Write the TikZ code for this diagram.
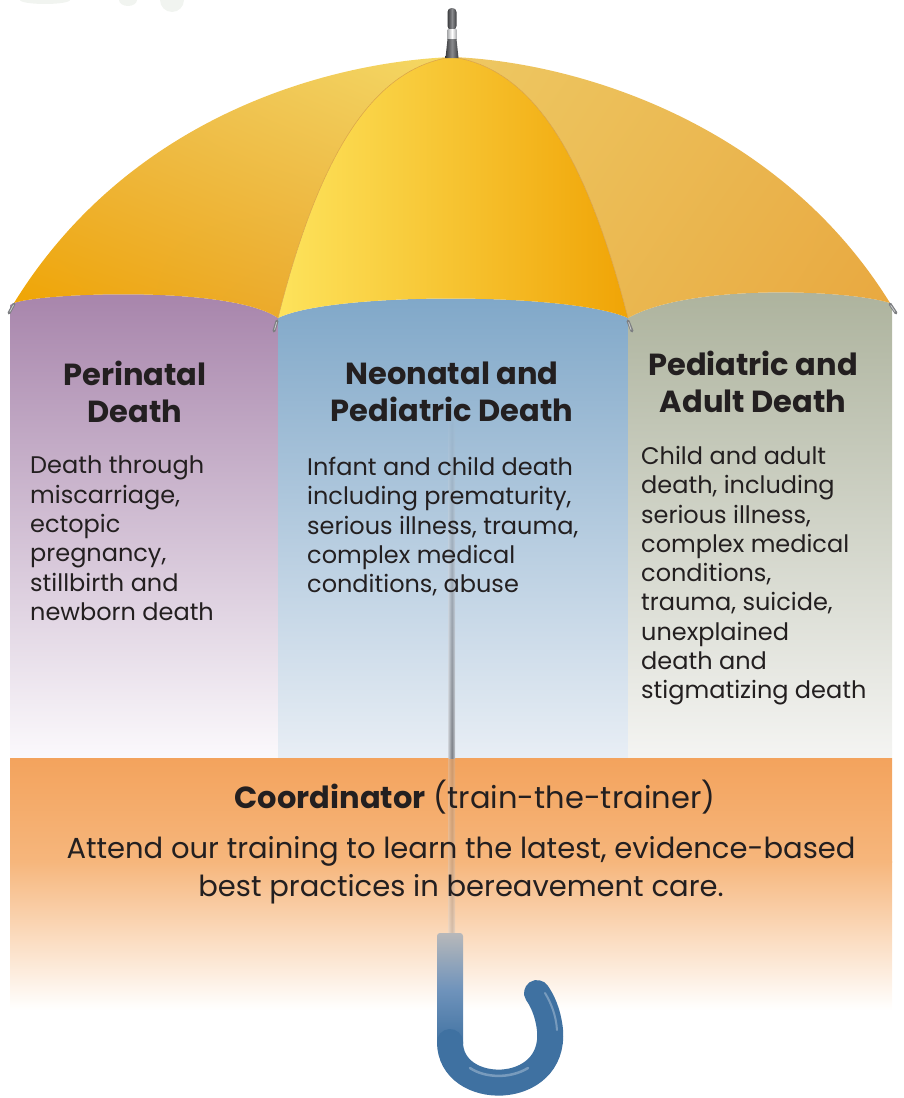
\documentclass[tikz,border=0pt]{standalone}
\usepackage{fontspec}
\setmainfont{Poppins}
\usetikzlibrary{fadings,shadings}
\definecolor{ink}{HTML}{231F20}
\definecolor{purpleTop}{HTML}{A683AA}
\definecolor{purpleBot}{HTML}{FBF9FC}
\definecolor{blueTop}{HTML}{7FA7C8}
\definecolor{blueBot}{HTML}{E8EEF5}
\definecolor{greenTop}{HTML}{ACB29C}
\definecolor{greenBot}{HTML}{F4F4F2}
\definecolor{bandTop}{HTML}{F3A35D}
\definecolor{bandMid}{HTML}{F6B67C}
\definecolor{canA}{HTML}{F0A400}
\definecolor{canB}{HTML}{E8AE48}
\definecolor{canC}{HTML}{EBBA52}
\definecolor{canD}{HTML}{F5D862}
\definecolor{midL}{HTML}{FDE35C}
\definecolor{midM}{HTML}{EBBC55}
\definecolor{midR}{HTML}{F0A406}
\definecolor{rgtA}{HTML}{EEC862}
\definecolor{rgtB}{HTML}{EBC05A}
\definecolor{rgtC}{HTML}{E9B24C}
\definecolor{rgtD}{HTML}{E9A83F}
\definecolor{ribline}{HTML}{D9A043}
\definecolor{metal}{HTML}{7D7F82}
\definecolor{ferDark}{HTML}{3A3B3E}
\definecolor{ferMid}{HTML}{8A8B8E}
\definecolor{shaftDark}{HTML}{7A7E85}
\definecolor{shaftLight}{HTML}{C4C8CE}
\definecolor{handleTop}{HTML}{B7B8BA}
\definecolor{handleMid}{HTML}{6F93BB}
\definecolor{handleBlue}{HTML}{3F71A1}
\definecolor{leaf}{HTML}{F1F4F0}
\tikzset{
  head/.style={font=\fontsize{30.5}{37}\selectfont\bfseries, text=ink, align=center, inner sep=0pt, anchor=north},
  bodytext/.style={font=\fontsize{24}{29.3}\selectfont, text=ink, align=left, inner sep=0pt, anchor=north west},
  tipline/.style={line width=3pt, line cap=round, color=metal}
}
\begin{document}
\begin{tikzpicture}[x=1pt,y=-1pt]
\useasboundingbox (0,0) rectangle (903,1098);
% faint leaf remnants
\fill[leaf] (45,0) ellipse [x radius=25, y radius=4];
\fill[leaf] (128,0) ellipse [x radius=9, y radius=6];
\fill[leaf] (172,0) ellipse [x radius=12, y radius=12];
% lower panels
\shade[top color=purpleTop, bottom color=purpleBot]
  (10,305) -- (14,303) .. controls (40,293) and (230,285) .. (278,318) -- (278,758) -- (10,758) -- cycle;
\shade[top color=blueTop, bottom color=blueBot]
  (278,318) .. controls (330,292) and (570,292) .. (628,318) -- (628,758) -- (278,758) -- cycle;
\shade[top color=greenTop, bottom color=greenBot]
  (628,318) .. controls (690,283) and (850,290) .. (890,303) -- (892,305) -- (892,758) -- (628,758) -- cycle;
% coordinator band
\shade[top color=bandTop, bottom color=bandMid] (10,758) rectangle (892,862);
\shade[top color=bandMid, bottom color=white] (10,861.5) rectangle (892,1010);
% shaft
\shade[left color=shaftLight, right color=shaftLight, middle color=shaftDark, path fading=north]
  (448.5,400) rectangle (455,758);
\shade[left color=shaftLight, right color=shaftLight, middle color=shaftDark, opacity=0.3]
  (448.5,758) rectangle (455,935);
% canopy
\shade[upper left=canC, upper right=canD, lower left=canA, lower right=canB]
  (452,57) .. controls (330,62) and (130,115) .. (14,303)
  .. controls (40,293) and (230,285) .. (278,318)
  .. controls (320,150) and (375,68) .. (452,57) -- cycle;
\shade[left color=midL, middle color=midM, right color=midR]
  (452,57) .. controls (375,68) and (320,150) .. (278,318)
  .. controls (330,292) and (570,292) .. (628,318)
  .. controls (585,150) and (530,68) .. (452,57) -- cycle;
\shade[upper left=rgtA, upper right=rgtC, lower left=rgtB, lower right=rgtD]
  (452,57) .. controls (530,68) and (585,150) .. (628,318)
  .. controls (690,283) and (850,290) .. (890,303)
  .. controls (780,125) and (580,62) .. (452,57) -- cycle;
\draw[ribline, line width=0.5pt] (452,57) .. controls (375,68) and (320,150) .. (278,318);
\draw[ribline, line width=0.5pt] (452,57) .. controls (530,68) and (585,150) .. (628,318);
% rib tips
\draw[tipline] (14,304) -- (9,313);
\draw[tipline] (277,321) -- (274,331);
\draw[tipline] (628,321) -- (632,331);
\draw[tipline] (890,304) -- (896,313);
\draw[white, line width=0.8pt, line cap=round, opacity=0.6] (13.5,305) -- (10,311.5);
\draw[white, line width=0.8pt, line cap=round, opacity=0.6] (276.6,322.5) -- (274.6,329.5);
\draw[white, line width=0.8pt, line cap=round, opacity=0.6] (628.6,322.5) -- (631,329.5);
\draw[white, line width=0.8pt, line cap=round, opacity=0.6] (890.8,305.5) -- (894.8,311.5);
% ferrule
\shade[left color=ferDark, right color=ferDark, middle color=ferMid, rounded corners=4pt]
  (447.5,30) -- (447.5,8) -- (456.5,8) -- (456.5,30) -- cycle;
\shade[left color=ferMid!70, right color=ferMid!70, middle color=white] (447.5,29) rectangle (456.5,39);
\shade[left color=ferDark, right color=ferDark, middle color=ferMid]
  (447.5,39) -- (456.5,39) -- (458.5,58) -- (445.5,58) -- cycle;
% handle
\shade[top color=handleTop, bottom color=handleBlue, middle color=handleMid, rounded corners=3pt]
  (437,933) rectangle (463,1047);
\draw[handleBlue, line width=26pt, line cap=round]
  (450,1042) .. controls (450,1098) and (556,1098) .. (550,1030)
  .. controls (548,1012) and (542,1000) .. (537,993);
\draw[white, opacity=0.3, line width=2.5pt, line cap=round]
  (470,1068) .. controls (485,1078) and (510,1079) .. (528,1068);
\draw[white, opacity=0.3, line width=2pt, line cap=round]
  (545,993) .. controls (551,1003) and (556,1015) .. (557,1030);
% headings
\node[head] (hleft) at (135,361) {Perinatal\\Death};
\node[head] (hmid) at (452,362) {Neonatal and\\Pediatric Death};
\node[head] (hright) at (753,351) {Pediatric and\\Adult Death};
% bodies
\node[bodytext] (bleft) at (30,456) {Death through\\miscarriage,\\ectopic\\pregnancy,\\stillbirth and\\newborn death};
\node[bodytext] (bmid) at (307,457) {Infant and child death\\including prematurity,\\serious illness, trauma,\\complex medical\\conditions, abuse};
\node[bodytext] (bright) at (641,446) {Child and adult\\death, including\\serious illness,\\complex medical\\conditions,\\trauma, suicide,\\unexplained\\death and\\stigmatizing death};
% coordinator
\node[font=\fontsize{30.5}{36}\selectfont, text=ink, inner sep=0pt, anchor=base] (coord) at (475,808) {\textbf{Coordinator} (train-the-trainer)};
\node[font=\fontsize{29}{38}\selectfont, text=ink, inner sep=0pt, align=center, anchor=north] (attend) at (461,836) {Attend our training to learn the latest, evidence-based\\best practices in bereavement care.};
\end{tikzpicture}
\end{document}
